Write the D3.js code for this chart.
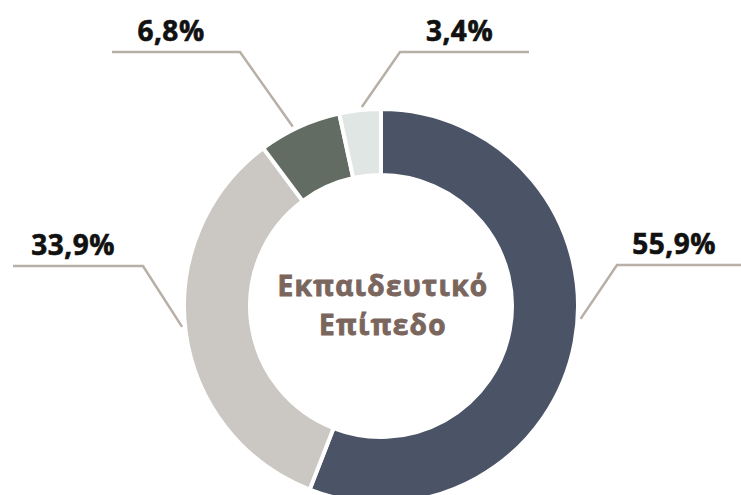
<!DOCTYPE html>
<html>
<head>
<meta charset="utf-8">
<script src="https://cdn.jsdelivr.net/npm/d3@7"></script>
<style>
  html, body { margin: 0; padding: 0; background: #fff; }
  svg { display: block; }
  .pct { font-family: "Open Sans", sans-serif; font-weight: 700; font-size: 28px; fill: #111; stroke: #111; stroke-width: 0.6px; letter-spacing: 0.5px; }
  .title { font-family: "Open Sans", sans-serif; font-weight: 700; font-size: 28px; fill: #7a665d; stroke: #7a665d; stroke-width: 0.9px; letter-spacing: 1.3px; }
</style>
</head>
<body>
<svg id="chart"></svg>
<script>
// data
var categories = ['A', 'B', 'C', 'D'];
var values = [55.9, 33.9, 6.8, 3.4];
var labels = ['55,9%', '33,9%', '6,8%', '3,4%'];
var colors = ['#4b5467', '#cbc8c3', '#626c62', '#e0e6e4'];
var titleLines = ['Εκπαιδευτικό', 'Επίπεδο'];

// layout of the label leaders (angle on the ring in degrees, elbow, end of line)
var leaders = [
  { angle: 93.7, ex: 617, ey: 265, x2: 741 },
  { angle: 264, ex: 143, ey: 266, x2: 13 },
  { angle: 333.8, ex: 240, ey: 52, x2: 112 },
  { angle: 354.5, ex: 400, ey: 52, x2: 529 }
];

var width = 741;
var height = 495;
var cx = 381, cy = 306;
var outerR = 197, innerR = 131;

var svg = d3.select('#chart').attr('width', width).attr('height', height);

var pie = d3.pie().sort(null).value(function(d) { return d; });
var arc = d3.arc().innerRadius(innerR).outerRadius(outerR);

var g = svg.append('g').attr('transform', 'translate(' + cx + ',' + cy + ')');

g.selectAll('path.slice')
  .data(pie(values))
  .enter()
  .append('path')
  .attr('class', 'slice')
  .attr('d', arc)
  .attr('fill', function(d, i) { return colors[i]; })
  .attr('stroke', '#fff')
  .attr('stroke-width', 4)
  .attr('stroke-linejoin', 'miter');

// leader lines
var leaderR = outerR + 3;
svg.selectAll('path.leader')
  .data(leaders)
  .enter()
  .append('path')
  .attr('class', 'leader')
  .attr('fill', 'none')
  .attr('stroke', '#b8afa6')
  .attr('stroke-width', 2.5)
  .attr('d', function(d) {
    var a = d.angle * Math.PI / 180;
    var x0 = cx + Math.sin(a) * leaderR;
    var y0 = cy - Math.cos(a) * leaderR;
    return d3.line()([[x0, y0], [d.ex, d.ey], [d.x2, d.ey]]);
  });

svg.selectAll('text.pct')
  .data(leaders)
  .enter()
  .append('text')
  .attr('class', 'pct')
  .attr('text-anchor', 'middle')
  .attr('x', function(d) { return (d.ex + d.x2) / 2 - 5; })
  .attr('y', function(d) { return d.ey - 11; })
  .text(function(d, i) { return labels[i]; });

// centre title
svg.selectAll('text.title')
  .data(titleLines)
  .enter()
  .append('text')
  .attr('class', 'title')
  .attr('text-anchor', 'middle')
  .attr('x', cx + 2)
  .attr('y', function(d, i) { return 296 + i * 39; })
  .text(function(d) { return d; });
</script>
</body>
</html>
